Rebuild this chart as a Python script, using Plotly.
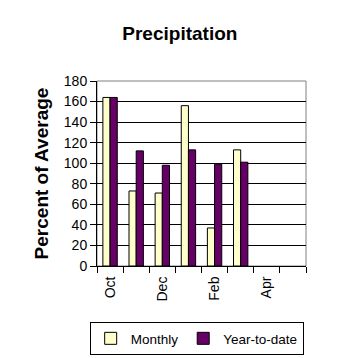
import plotly.graph_objects as go

months = ["Oct", "Nov", "Dec", "Jan", "Feb", "Mar", "Apr", "May"]
tick_text = ["Oct", "", "Dec", "", "Feb", "", "Apr", ""]
monthly = [164, 73, 71, 156, 37, 113, None, None]
year_to_date = [164, 112, 98, 113, 99, 101, None, None]
y_ticks = [0, 20, 40, 60, 80, 100, 120, 140, 160, 180]

font = "Liberation Sans, Arial, sans-serif"

fig = go.Figure()
fig.add_trace(go.Bar(x=months, y=monthly, name="Monthly",
                     marker=dict(color="#FFFFCC", line=dict(color="black", width=1))))
fig.add_trace(go.Bar(x=months, y=year_to_date, name="Year-to-date",
                     marker=dict(color="#660066", line=dict(color="black", width=1))))

fig.update_layout(
    width=358, height=358,
    margin=dict(l=89, r=60, t=73, b=100, autoexpand=False),
    paper_bgcolor="white", plot_bgcolor="white",
    font=dict(family=font, color="black", size=13),
    title=dict(text="<b>Precipitation</b>", x=0.48, xanchor="center", y=0.93, yanchor="middle",
               font=dict(size=19, family=font, color="black")),
    barmode="group", bargap=0.45, bargroupgap=0,
    showlegend=True,
    legend=dict(orientation="h", x=-0.035, xanchor="left", y=-0.303, yanchor="top",
                bordercolor="black", borderwidth=1, font=dict(size=13.5, family=font),
                itemwidth=30, tracegroupgap=0),
    shapes=[dict(type="rect", xref="paper", yref="paper", x0=0, x1=1, y0=0, y1=1,
                 line=dict(color="#808080", width=1), layer="below")],
)
fig.update_yaxes(range=[0, 180], tickvals=y_ticks, showgrid=True, gridcolor="black", gridwidth=1,
                 showline=True, linecolor="black", linewidth=1, ticks="outside", ticklen=6,
                 tickcolor="black", tickfont=dict(size=14), zeroline=False,
                 title=dict(text="<b>Percent of Average</b>", font=dict(size=19), standoff=10))
fig.update_xaxes(type="category", tickvals=months, ticktext=tick_text, tickson="boundaries",
                 tickangle=-90, ticks="outside", ticklen=6, tickcolor="black",
                 showline=True, linecolor="black", linewidth=1, showgrid=False,
                 tickfont=dict(size=14), ticklabelstandoff=4)

fig.write_html("out.html")
